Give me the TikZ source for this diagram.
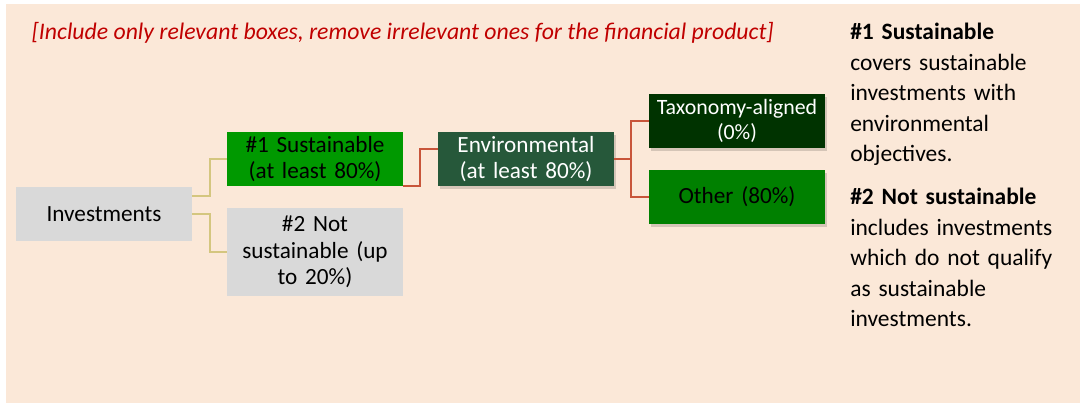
\documentclass[tikz,border=0pt]{standalone}
\usepackage{fontspec}
\setmainfont{Carlito}
\usetikzlibrary{calc,shadows}

\definecolor{peach}{HTML}{FBE8D8}
\definecolor{boxgray}{HTML}{D9D9D9}
\definecolor{susgreen}{HTML}{009900}
\definecolor{envgreen}{HTML}{26583A}
\definecolor{taxgreen}{HTML}{003300}
\definecolor{othgreen}{HTML}{008000}
\definecolor{tanline}{HTML}{D4C67F}
\definecolor{redline}{HTML}{C8553A}
\definecolor{notered}{HTML}{C00000}

\tikzset{
    box/.style={minimum width=132pt, minimum height=40.5pt, inner sep=0pt,
        text width=130pt, align=center,
        font=\fontsize{17.4}{20}\selectfont},
    shade box/.style={box, drop shadow={shadow xshift=1.8pt, shadow yshift=-2.2pt,
        opacity=0.15, fill=black}},
    tan link/.style={tanline, line width=1.5pt},
    red link/.style={redline, line width=1.7pt},
}

\begin{document}
\begin{tikzpicture}[x=0.75pt, y=-0.75pt]
    \useasboundingbox (0,0) rectangle (1080,403);
    \fill[peach] (6,4) rectangle (1080,403);

    \node[anchor=base west, text=notered, font=\fontsize{17.8}{20}\selectfont\itshape]
        (note) at (27,40) {[Include only relevant boxes, remove irrelevant ones for the financial product]};

    \node[box, fill=boxgray] (inv) at (104,214) {Investments};
    \node[box, fill=susgreen] (sus) at (315,159) {\#1 Sustainable\\(at least 80\%)};
    \node[box, fill=boxgray, minimum height=66pt] (notsus) at (315,252)
        {\#2 Not\\sustainable (up\\to 20\%)};
    \node[shade box, fill=envgreen, text=white] (env) at (526,159)
        {Environmental\\(at least 80\%)};
    \node[shade box, fill=taxgreen, text=white, font=\fontsize{16.4}{19}\selectfont] (tax) at (737,121)
        {Taxonomy-aligned\\(0\%)};
    \node[shade box, fill=othgreen] (oth) at (737,197) {Other (80\%)};

    \draw[tan link] ($(inv.north east)+(0,9)$) -- ++(18,0) |- (sus.west);
    \draw[tan link] (inv.east) -- ++(18,0) |- (notsus.west);
    \draw[red link] (sus.south east) -- ++(17,0) |- ($(env.west)+(0,-10)$);
    \draw[red link] (env.east) -- ++(17,0) |- (tax.west);
    \draw[red link] (env.east) -- ++(17,0) |- (oth.west);

    \node[anchor=north west, inner sep=0pt, text width=170pt, align=left,
        font=\fontsize{17.6}{22.9}\selectfont] (def1) at (850,23)
        {\textbf{\#1 Sustainable}\\covers sustainable\\investments with\\environmental\\objectives.};
    \node[anchor=north west, inner sep=0pt, text width=170pt, align=left,
        font=\fontsize{17.6}{22.9}\selectfont] (def2) at (850,188)
        {\textbf{\#2 Not sustainable}\\includes investments\\which do not qualify\\as sustainable\\investments.};
\end{tikzpicture}
\end{document}
